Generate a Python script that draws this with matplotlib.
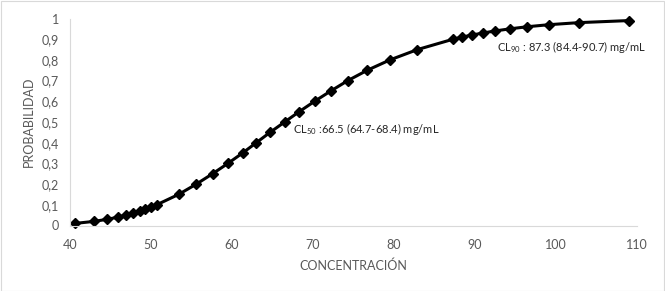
import matplotlib
matplotlib.use("Agg")
import matplotlib.pyplot as plt
from matplotlib.patches import Rectangle

# Data
concentracion = [40.6, 43.0, 44.6, 45.9, 46.9, 47.8, 48.6, 49.3, 50.0, 50.7,
                 53.4, 55.6, 57.6, 59.5, 61.3, 63.0, 64.7, 66.5, 68.3, 70.2,
                 72.2, 74.3, 76.7, 79.5, 82.9, 87.3, 88.4, 89.6, 91.0, 92.5,
                 94.3, 96.4, 99.1, 102.8, 109.0]
probabilidad = [0.01, 0.02, 0.03, 0.04, 0.05, 0.06, 0.07, 0.08, 0.09, 0.10,
                0.15, 0.20, 0.25, 0.30, 0.35, 0.40, 0.45, 0.50, 0.55, 0.60,
                0.65, 0.70, 0.75, 0.80, 0.85, 0.90, 0.91, 0.92, 0.93, 0.94,
                0.95, 0.96, 0.97, 0.98, 0.99]
x_ticks = [40, 50, 60, 70, 80, 90, 100, 110]
y_ticks = [0, 0.1, 0.2, 0.3, 0.4, 0.5, 0.6, 0.7, 0.8, 0.9, 1.0]
y_tick_labels = ["0", "0,1", "0,2", "0,3", "0,4", "0,5", "0,6", "0,7", "0,8", "0,9", "1"]
ann50 = r"CL$_{50}$ :66.5 (64.7-68.4) mg/mL"
ann90 = r"CL$_{90}$ : 87.3 (84.4-90.7) mg/mL"

plt.rcParams["font.family"] = ["Lato", "DejaVu Sans"]
plt.rcParams["mathtext.default"] = "regular"

W, H = 665, 291
fig = plt.figure(figsize=(W / 100, H / 100), dpi=100)
fig.patches.append(Rectangle((0.5 / W, 0.5 / H), 1 - 1.5 / W, 1 - 1.5 / H,
                             transform=fig.transFigure, fill=False,
                             edgecolor="#d9d9d9", linewidth=0.8))

ax = fig.add_axes([70 / W, 1 - 225.5 / H, (637 - 70) / W, (225.5 - 18.5) / H])
ax.plot(concentracion, probabilidad, color="black", linewidth=2.2,
        marker="D", markersize=5.5, clip_on=False)

ax.set_xlim(40, 110)
ax.set_ylim(0, 1)
ax.set_xticks(x_ticks)
ax.set_xticklabels([str(t) for t in x_ticks])
ax.set_yticks(y_ticks)
ax.set_yticklabels(y_tick_labels)

for s in ["top", "right"]:
    ax.spines[s].set_visible(False)
ax.spines["left"].set_color("#d9d9d9")
ax.spines["bottom"].set_color("#d9d9d9")
ax.spines["left"].set_linewidth(0.8)
ax.spines["bottom"].set_linewidth(0.8)
ax.tick_params(axis="both", length=0, colors="#595959", labelsize=9)
ax.tick_params(axis="x", pad=10)
ax.tick_params(axis="y", pad=8)

ax.set_ylabel("PROBABILIDAD", color="#595959", fontsize=9)
ax.yaxis.set_label_coords(-0.062, 0.5)
ax.set_xlabel("CONCENTRACIÓN", color="#595959", fontsize=9, labelpad=6)

ax.text(67.5, 0.466, ann50, fontsize=8, color="#262626", va="center", ha="left")
ax.text(92.7, 0.864, ann90, fontsize=8, color="#262626", va="center", ha="left")

fig.savefig("out.png", dpi=100)
